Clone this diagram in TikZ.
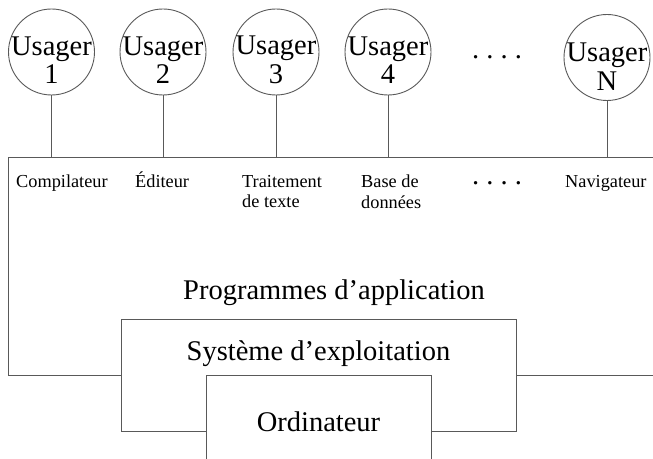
\documentclass[tikz,border=0pt]{standalone}
\usepackage{fontspec}
\setmainfont{Liberation Serif}
\newcommand{\grand}{\fontsize{28.5}{28.4}\selectfont}
\newcommand{\petit}{\fontsize{18.3}{20.5}\selectfont}
\begin{document}
\begin{tikzpicture}[x=1pt, y=1pt,
    trait/.style={draw=black!65, line width=0.9pt},
    usager/.style={trait, circle, minimum size=86pt, inner sep=0pt},
    couche/.style={trait, fill=white, rectangle, inner sep=0pt},
    etiq/.style={font=\grand, inner sep=0pt, align=center},
    prog/.style={font=\petit, inner sep=0pt, align=left}]
    \useasboundingbox (0,0) rectangle (653,458);

    % --- Bloc des programmes d'application (bord droit hors cadre) ---
    \node[couche, minimum width=692pt, minimum height=218pt] (appli) at (354,192) {};
    \node[etiq, anchor=base] (tappli) at (334,158) {Programmes d’application};

    % --- Système d'exploitation ---
    \node[couche, minimum width=395pt, minimum height=112pt] (os) at (318.5,83) {};
    \node[etiq, anchor=base] (tos) at (318.5,97) {Système d’exploitation};

    % --- Ordinateur (bas hors cadre) ---
    \node[couche, minimum width=225pt, minimum height=103pt] (ordi) at (318.5,31.5) {};
    \node[etiq, anchor=base] (tordi) at (318.5,27) {Ordinateur};

    % --- Usagers ---
    \node[usager] (u1) at (51.5,406) {};
    \node[usager] (u2) at (163,406) {};
    \node[usager] (u3) at (276,406) {};
    \node[usager] (u4) at (388,406) {};
    \node[usager] (uN) at (607,400.5) {};
    \node[etiq] (tu1) at ([yshift=-8pt]u1.center) {Usager\\1};
    \node[etiq] (tu2) at ([yshift=-8pt]u2.center) {Usager\\2};
    \node[etiq] (tu3) at ([yshift=-8pt]u3.center) {Usager\\3};
    \node[etiq] (tu4) at ([yshift=-8pt]u4.center) {Usager\\4};
    \node[etiq] (tuN) at ([yshift=-9pt]uN.center) {Usager\\N};
    \node[etiq, anchor=base] (pts) at (497,399) {.\ .\ .\ .};

    % liaisons usager -> programme
    \draw[trait] (u1) -- (u1 |- appli.north);
    \draw[trait] (u2) -- (u2 |- appli.north);
    \draw[trait] (u3) -- (u3 |- appli.north);
    \draw[trait] (u4) -- (u4 |- appli.north);
    \draw[trait] (uN) -- (uN |- appli.north);

    % --- Programmes ---
    \node[prog, anchor=base west] (p1) at (16,270.5) {Compilateur};
    \node[prog, anchor=base west] (p2) at (135,270.5) {Éditeur};
    \node[prog, anchor=north west] (p3) at (242,283) {Traitement\\de texte};
    \node[prog, anchor=north west] (p4) at (361,283) {Base de\\données};
    \node[etiq, anchor=base] (ppts) at (497,273) {.\ .\ .\ .};
    \node[prog, anchor=base west] (pN) at (565,270.5) {Navigateur};
\end{tikzpicture}
\end{document}
